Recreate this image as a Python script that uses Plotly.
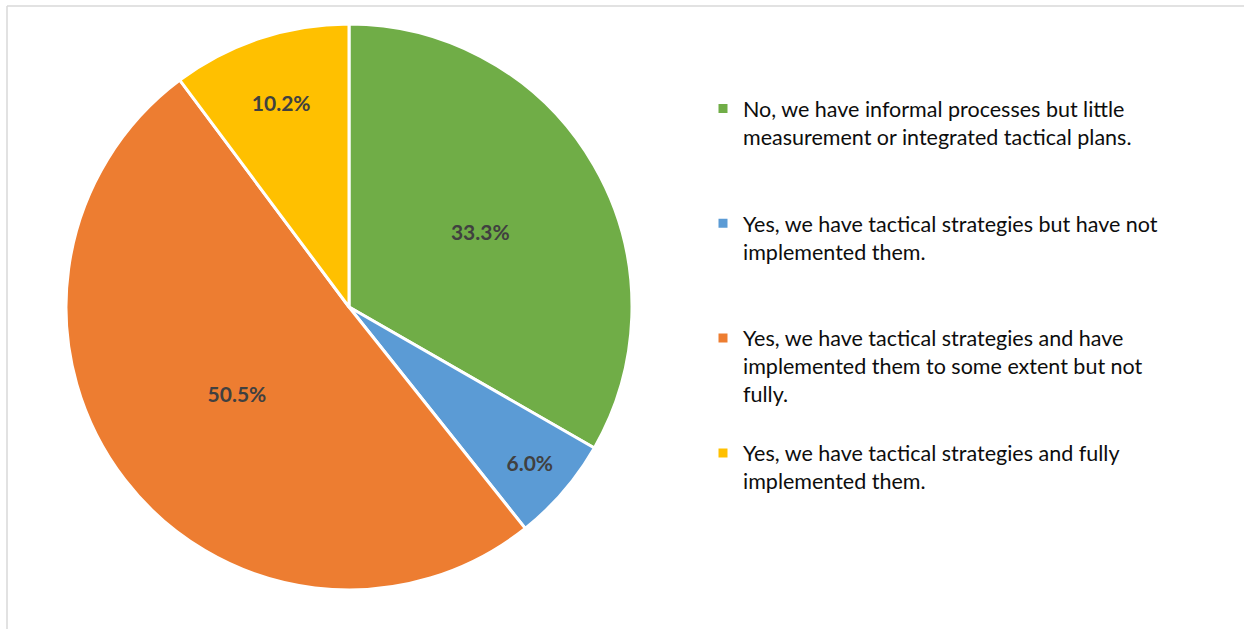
import plotly.graph_objects as go

# Survey responses and their shares (%)
labels = [
    "No, we have informal processes but little<br>measurement or integrated tactical plans.",
    "Yes, we have tactical strategies but have not<br>implemented them.",
    "Yes, we have tactical strategies and have<br>implemented them to some extent but not<br>fully.",
    "Yes, we have tactical strategies and fully<br>implemented them.",
]
shares = [33.3, 6.0, 50.5, 10.2]
colors = ["#70AD47", "#5B9BD5", "#ED7D31", "#FFC000"]

# pad each legend entry to four lines so entries are evenly spaced
line_counts = [lab.count("<br>") + 1 for lab in labels]
legend_labels = [lab + "<br>&nbsp;" * (4 - n) for lab, n in zip(labels, line_counts)]

W, H = 1244, 629
cx, cy, r = 349, 307, 283

fig = go.Figure(
    go.Pie(
        labels=legend_labels,
        values=shares,
        sort=False,
        direction="clockwise",
        rotation=0,
        marker=dict(colors=colors, line=dict(color="white", width=3)),
        texttemplate="%{value:.1f}%",
        textposition="inside",
        insidetextorientation="horizontal",
        textfont=dict(family="Lato", size=21, color="#404040", weight="bold"),
        domain=dict(x=[(cx - r) / W, (cx + r) / W], y=[1 - (cy + r) / H, 1 - (cy - r) / H]),
        hoverinfo="label+percent",
    )
)

# chart-area frame (top and left edges)
fig.add_shape(type="line", xref="paper", yref="paper", x0=7 / W, x1=1, y0=1 - 6 / H, y1=1 - 6 / H,
              line=dict(color="#D9D9D9", width=1.5))
fig.add_shape(type="line", xref="paper", yref="paper", x0=7 / W, x1=7 / W, y0=0, y1=1 - 6 / H,
              line=dict(color="#D9D9D9", width=1.5))

fig.update_layout(
    width=W,
    height=H,
    margin=dict(l=0, r=0, t=0, b=0),
    paper_bgcolor="white",
    plot_bgcolor="white",
    showlegend=True,
    legend=dict(
        x=703 / W,
        y=1 - 88 / H,
        xanchor="left",
        yanchor="top",
        valign="top",
        font=dict(family="Lato", size=21.5, color="#0D0D0D"),
        itemwidth=30,
        bgcolor="rgba(0,0,0,0)",
    ),
)

fig.write_html("out.html")
